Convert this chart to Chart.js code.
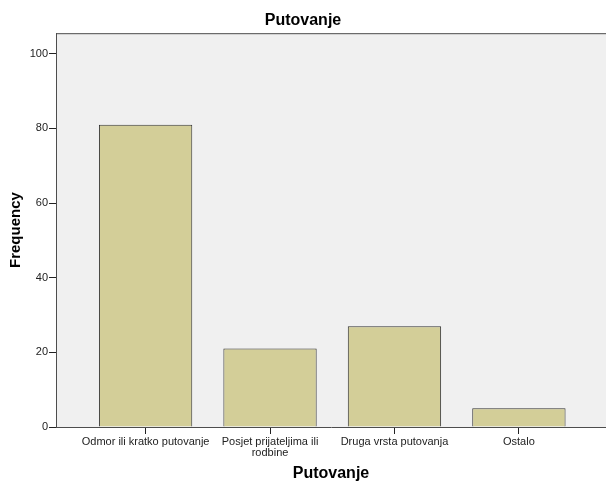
<!DOCTYPE html>
<html>
<head>
    <title>Putovanje</title>
    <script src="https://cdn.jsdelivr.net/npm/chart.js"></script>
    <style>
  body {
    margin: 0;
    padding: 0;
    background-color: #ffffff;
}

.chart-box {
    width: 606px;
    height: 482px;
}
</style>
</head>
<body>

    <div class="chart-box">
        <canvas id="travelChart"></canvas>
    </div>

    <script>
        // data
        const categories = [
            'Odmor ili kratko putovanje',
            ['Posjet prijateljima ili', 'rodbine'],
            'Druga vrsta putovanja',
            'Ostalo'
        ];
        const frequencies = [81, 21, 27, 5];
        const yTicks = [0, 20, 40, 60, 80, 100];

        // grey plot background + top frame line
        const plotFrame = {
            id: 'plotFrame',
            beforeDraw(chart) {
                const { ctx, chartArea } = chart;
                ctx.save();
                ctx.fillStyle = '#f0f0f0';
                ctx.fillRect(chartArea.left, chartArea.top, chartArea.right - chartArea.left, chartArea.bottom - chartArea.top);
                ctx.strokeStyle = '#4d4d4d';
                ctx.lineWidth = 1;
                ctx.beginPath();
                ctx.moveTo(chartArea.left, chartArea.top + 0.5);
                ctx.lineTo(chartArea.right, chartArea.top + 0.5);
                ctx.stroke();
                ctx.restore();
            }
        };

        Chart.defaults.font.family = '"Liberation Sans", Arial, sans-serif';
        Chart.defaults.color = '#222';

        new Chart(document.getElementById('travelChart'), {
            type: 'bar',
            data: {
                datasets: [{
                    label: 'Frequency',
                    data: frequencies.map((v, i) => ({ x: i, y: v })),
                    backgroundColor: '#d3ce98',
                    borderColor: '#333',
                    borderWidth: 1,
                    barPercentage: 0.75,
                    categoryPercentage: 1
                }]
            },
            options: {
                responsive: true,
                maintainAspectRatio: false,
                animation: false,
                layout: { padding: 0 },
                plugins: {
                    legend: { display: false },
                    tooltip: { enabled: false },
                    title: {
                        display: true,
                        text: 'Putovanje',
                        color: '#000',
                        font: { size: 16, weight: 'bold', lineHeight: 1.2 },
                        padding: { top: 11, bottom: 3 }
                    }
                },
                scales: {
                    x: {
                        type: 'linear',
                        offset: false,
                        min: -0.72,
                        max: 3.7,
                        afterBuildTicks(scale) {
                            scale.ticks = categories.map((c, i) => ({ value: i }));
                        },
                        afterFit(scale) { scale.height = 55; },
                        ticks: {
                            autoSkip: false,
                            maxRotation: 0,
                            padding: 2,
                            font: { size: 11, lineHeight: 1.05 },
                            callback: v => categories[v]
                        },
                        grid: { offset: false, drawOnChartArea: false, tickLength: 7, tickColor: '#222' },
                        border: { display: true, color: '#4d4d4d' },
                        title: {
                            display: true,
                            text: 'Putovanje',
                            color: '#000',
                            font: { size: 16, weight: 'bold', lineHeight: 1 },
                            padding: { top: 0, bottom: 0 }
                        }
                    },
                    y: {
                        min: 0,
                        max: 105.5,
                        afterBuildTicks(scale) {
                            scale.ticks = yTicks.map(v => ({ value: v }));
                        },
                        afterFit(scale) { scale.width = 56; },
                        ticks: { padding: 1, font: { size: 11 } },
                        grid: { drawOnChartArea: false, tickLength: 7, tickColor: '#222' },
                        border: { display: true, color: '#4d4d4d' },
                        title: {
                            display: true,
                            text: 'Frequency',
                            color: '#000',
                            font: { size: 15, weight: 'bold', lineHeight: 1 },
                            padding: { top: 8, bottom: 0 }
                        }
                    }
                }
            },
            plugins: [plotFrame]
        });
    </script>
</body>
</html>
